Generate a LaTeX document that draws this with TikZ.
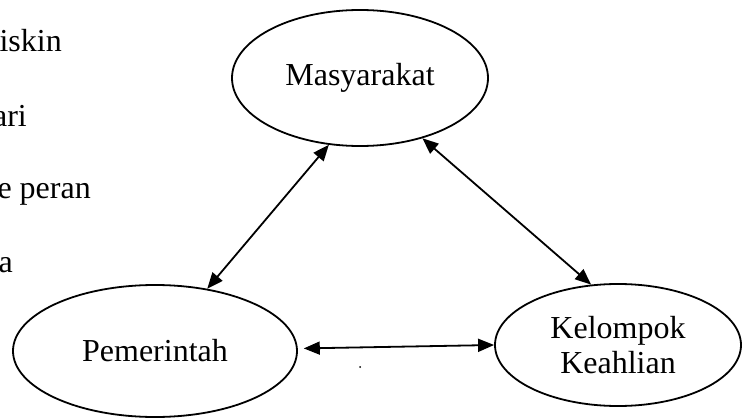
\documentclass[tikz,border=0pt]{standalone}
\usepackage{fontspec}
\setmainfont{Liberation Serif}
\usetikzlibrary{arrows.meta,shapes.geometric}
\begin{document}
\begin{tikzpicture}[x=1pt,y=-1pt,
  bubble/.style={ellipse,draw,line width=1.8pt,inner sep=0pt,align=center,
    font=\fontsize{32}{35}\selectfont},
  link/.style={line width=1.8pt,{Triangle[length=16pt,width=13pt]}-{Triangle[length=16pt,width=13pt]}},
  sidetext/.style={anchor=base east,inner sep=0pt,font=\fontsize{32}{35}\selectfont}]
\useasboundingbox (0,0) rectangle (745,420);
\node[bubble,minimum width=256pt,minimum height=136pt] (m) at (360,78) {Masyarakat};
\node[bubble,minimum width=284pt,minimum height=132pt] (p) at (155,351) {Pemerintah};
\node[bubble,minimum width=246pt,minimum height=122pt] (k) at (618,345) {Kelompok\\Keahlian};
\node[sidetext] (t1) at (62,52) {iskin};
\node[sidetext] (t2) at (27,127) {ari};
\node[sidetext] (t3) at (91,198) {e peran};
\node[sidetext] (t4) at (13,272) {a};
\draw[link] (m.245.4) -- (p.50.9);
\draw[link] (m.316.4) -- (k.114.8);
\draw[link,shorten <=6pt] (p.1.5) -- (k.west);
\fill (360,367) circle (1pt);
\end{tikzpicture}
\end{document}
